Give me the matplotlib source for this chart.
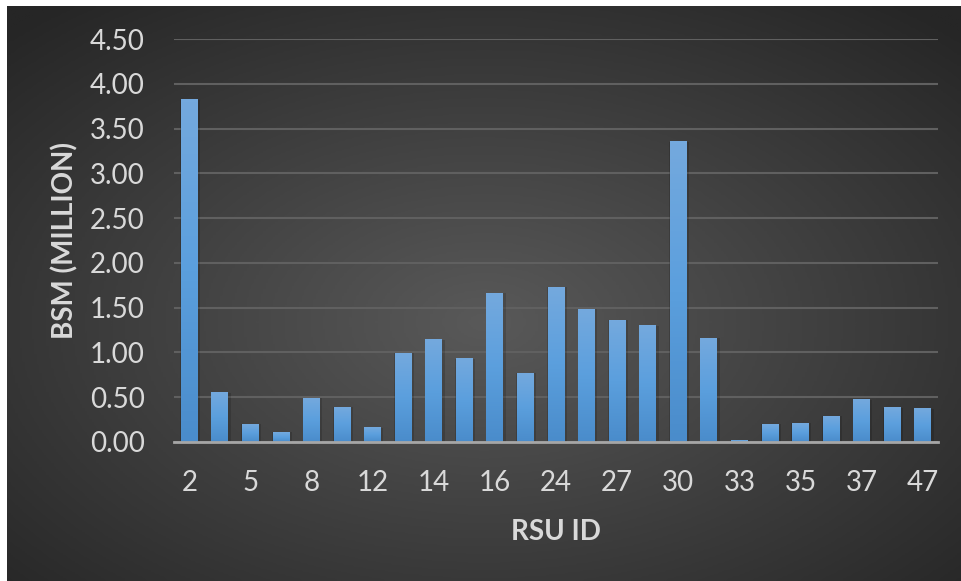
import numpy as np
import matplotlib.pyplot as plt
from matplotlib.colors import LinearSegmentedColormap

# RSU ids (only every other one shows on the axis)
rsu_ids = ['2', '4', '5', '7', '8', '10', '12', '13', '14', '15', '16', '20', '24',
           '26', '27', '28', '30', '32', '33', '34', '35', '36', '37', '40', '47']
bsm = [3.82, 0.55, 0.20, 0.11, 0.49, 0.39, 0.16, 0.99, 1.14, 0.93, 1.66, 0.77, 1.73,
       1.48, 1.36, 1.30, 3.35, 1.16, 0.02, 0.20, 0.21, 0.29, 0.47, 0.38, 0.37]
yticks = [0.0, 0.5, 1.0, 1.5, 2.0, 2.5, 3.0, 3.5, 4.0, 4.5]

plt.rcParams['font.family'] = ['Lato', 'DejaVu Sans']
txt = '#d9d9d9'

fig = plt.figure(figsize=(9.61, 5.81), dpi=100, facecolor='white')

# dark radial background
bg = fig.add_axes([7/961, 0, 1 - 7/961, 1 - 6/581])
bg.set_axis_off()
gx, gy = np.meshgrid(np.linspace(0, 1, 400), np.linspace(0, 1, 300))
r = np.sqrt(((gx - 0.5) / 0.75) ** 2 + ((gy - 0.55) / 0.75) ** 2)
bgcmap = LinearSegmentedColormap.from_list('bg', ['#595959', '#262626'])
bg.imshow(r, cmap=bgcmap, vmin=0, vmax=0.95, aspect='auto', extent=[0, 1, 0, 1])

ax = fig.add_axes([174/961, 1 - 442/581, 764/961, 403/581])
ax.patch.set_alpha(0)
x = np.arange(len(bsm))
bars = ax.bar(x, bsm, width=0.55, color='#5b9bd5', zorder=3)

# vertical gradient on each bar
barcmap = LinearSegmentedColormap.from_list('bar', ['#4a8ccb', '#5b9fdd', '#74a9de'])
grad = np.linspace(0, 1, 100).reshape(-1, 1)
for b in bars:
    bx, by, bw, bh = b.get_x(), b.get_y(), b.get_width(), b.get_height()
    # soft shadow
    ax.bar(bx + bw / 2 + 0.03, bh, width=bw + 0.1, color='black', alpha=0.15, zorder=2)
    ax.imshow(grad, cmap=barcmap, origin='lower', aspect='auto',
              extent=[bx, bx + bw, by, by + bh], zorder=4)
    b.set_alpha(0)

ax.set_xlim(-0.5, len(bsm) - 0.5)
ax.set_ylim(0, 4.5)
ax.set_yticks(yticks)
ax.set_yticklabels(['%.2f' % v for v in yticks])
ax.set_xticks(x[::2])
ax.set_xticklabels(rsu_ids[::2])
ax.grid(axis='y', color='#606060', linewidth=1.5, zorder=1)
for s in ['top', 'right', 'left']:
    ax.spines[s].set_visible(False)
ax.spines['bottom'].set_color('#a6a6a6')
ax.spines['bottom'].set_linewidth(2)
ax.spines['bottom'].set_zorder(5)
ax.tick_params(axis='both', length=0, labelsize=20, labelcolor=txt)
ax.tick_params(axis='y', pad=21)
ax.tick_params(axis='x', pad=20)

ax.set_xlabel('RSU ID', fontsize=20, fontweight='bold', color=txt, labelpad=17)
ax.set_ylabel('BSM (MILLION)', fontsize=20, fontweight='bold', color=txt, labelpad=8)

plt.savefig('out.png', dpi=100, facecolor='white')
